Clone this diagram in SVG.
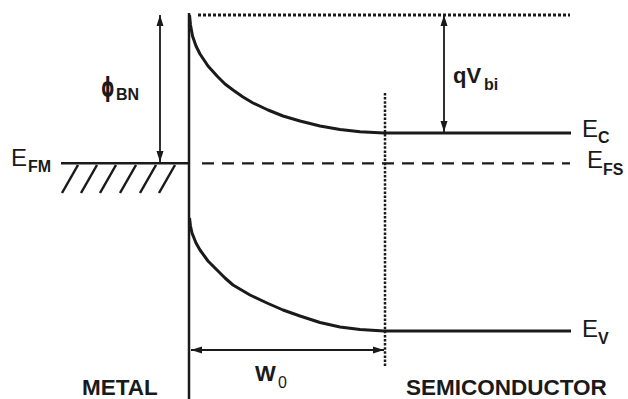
<svg xmlns="http://www.w3.org/2000/svg" width="628" height="399" viewBox="0 0 628 399">
<style>
.ln{stroke:#1a1a1a;fill:none}
.t{font-family:"Liberation Sans",Arial,sans-serif;fill:#1a1a1a}
.e{font-size:24px}
.b{font-weight:bold}
.sub{font-size:16px;font-weight:bold}
</style>
<defs>
<marker id="ah" markerUnits="userSpaceOnUse" markerWidth="12" markerHeight="8" refX="11" refY="4" orient="auto-start-reverse">
<path d="M0,0.5 L11,4 L0,7.5 z" fill="#1a1a1a"/>
</marker>
</defs>
<rect width="628" height="399" fill="#fff"/>
<g id="metal">
<line class="ln" x1="189" y1="13" x2="189" y2="399" stroke-width="2.5"/>
<line class="ln" x1="61" y1="163.3" x2="189" y2="163.3" stroke-width="2.5"/>
<g class="ln" stroke-width="2.5">
<line x1="62" y1="193" x2="78" y2="165"/>
<line x1="81" y1="193" x2="97" y2="165"/>
<line x1="100" y1="193" x2="116" y2="165"/>
<line x1="120" y1="193" x2="136" y2="165"/>
<line x1="140" y1="193" x2="156" y2="165"/>
<line x1="159" y1="193" x2="175" y2="165"/>
</g>
</g>
<g id="levels">
<line class="ln" x1="198" y1="15" x2="570" y2="15" stroke-width="3" stroke-dasharray="3 2"/>
<line class="ln" x1="202" y1="163.3" x2="570" y2="163.3" stroke-width="2.2" stroke-dasharray="12 8"/>
<line class="ln" x1="385" y1="93" x2="385" y2="367" stroke-width="2.5" stroke-dasharray="2.5 1.6"/>
</g>
<g id="ec">
<polyline class="ln" stroke-width="3" stroke-linejoin="round" points="189.5,15 190.5,25 192.5,36 196,46 200,54 208,66 217,76 225,84 233,90 243,97 253,103 268,110 283,116 300,121 320,126 340,129.5 360,131.8 384,133 571,133"/>
</g>
<g id="ev">
<polyline class="ln" stroke-width="3" stroke-linejoin="round" points="189.5,218 190.5,226 192,233 196,243 200,250 208,261 217,270 225,278 233,285 250,295 267,303 283,310 300,316 320,322.5 340,327 360,329.5 384,331 571,331"/>
</g>
<g id="connectors">
<line class="ln" x1="160" y1="15" x2="160" y2="162" stroke-width="1.8" marker-start="url(#ah)" marker-end="url(#ah)"/>
<line class="ln" x1="444" y1="15" x2="444" y2="132" stroke-width="1.8" marker-start="url(#ah)" marker-end="url(#ah)"/>
<line class="ln" x1="191" y1="350" x2="384" y2="350" stroke-width="1.8" marker-start="url(#ah)" marker-end="url(#ah)"/>
</g>
<g id="labels">
<text class="t e" x="11" y="166">E</text><text class="t sub" x="28" y="172">FM</text>
<text class="t e" x="582" y="137">E</text><text class="t sub" x="598" y="143">C</text>
<text class="t e" x="587" y="168">E</text><text class="t sub" x="603" y="175">FS</text>
<text class="t e" x="582" y="337">E</text><text class="t sub" x="598" y="344">V</text>
<text class="t b" font-size="25" transform="translate(101,96) scale(0.68,1.08)" style="font-family:'DejaVu Sans',sans-serif">ϕ</text><text class="t sub" x="116" y="100" font-size="17">BN</text>
<text class="t b" x="453" y="83" font-size="22">qV</text><text class="t sub" x="484" y="90" font-size="17">bi</text>
<text class="t b" x="255" y="381" font-size="22">W</text><text class="t" x="278" y="388" font-size="16">0</text>
<text class="t b" x="82" y="395" font-size="22.5">METAL</text>
<text class="t b" x="406" y="395" font-size="22.5">SEMICONDUCTOR</text>
</g>
</svg>
